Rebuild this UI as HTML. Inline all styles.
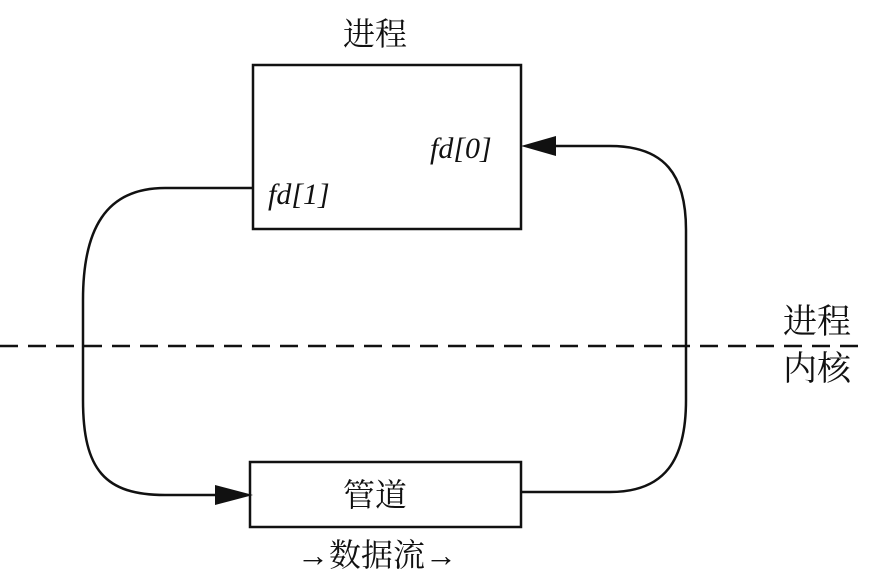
<!DOCTYPE html>
<html><head><meta charset="utf-8"><style>
html,body{margin:0;padding:0;background:#fff;}
svg{display:block;}
.cn{font-family:"Liberation Serif","Noto Serif CJK SC",serif;fill:#111;}
.it{font-family:"Liberation Serif",serif;font-style:italic;fill:#111;}
</style></head><body>
<svg width="870" height="587" viewBox="0 0 870 587" xmlns="http://www.w3.org/2000/svg">
<g fill="none" stroke="#111" stroke-width="2.5">
<rect x="253" y="65" width="268" height="164"/>
<rect x="250" y="462" width="271" height="65"/>
<path d="M253 188 H165 C105 188 83 230 83 300 V400 C83 470 105 495 165 495 H218"/>
<path d="M521 492 H610 C665 492 686 460 686 400 V230 C686 175 665 146 610 146 H556"/>
<line x1="0" y1="346" x2="862" y2="346" stroke-dasharray="18,10"/>
</g>
<polygon points="253,495 215,485 215,505" fill="#111"/>
<polygon points="521,146 556,136 556,156" fill="#111"/>
<text x="375" y="45" class="cn" font-size="32" text-anchor="middle">进程</text>
<text x="430" y="158" class="it" font-size="30">fd[0]</text>
<text x="268" y="204" class="it" font-size="30">fd[1]</text>
<text x="375" y="506" class="cn" font-size="32" text-anchor="middle">管道</text>
<text x="817" y="333" class="cn" font-size="34" text-anchor="middle">进程</text>
<text x="817" y="380" class="cn" font-size="34" text-anchor="middle">内核</text>
<text x="377" y="566" class="cn" font-size="32" text-anchor="middle">→数据流→</text>
</svg>
</body></html>
